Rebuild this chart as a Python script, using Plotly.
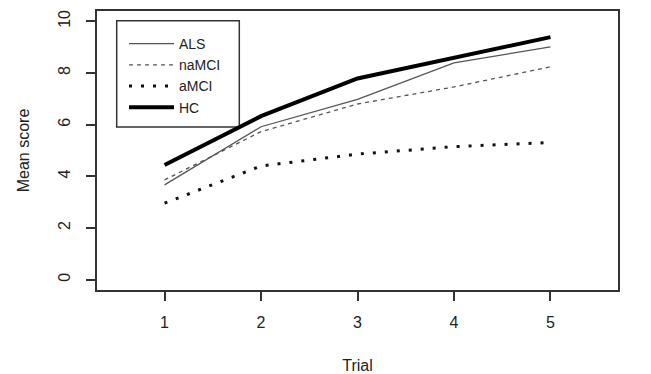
import plotly.graph_objects as go

trials = [1, 2, 3, 4, 5]
als = [3.67, 5.92, 6.98, 8.39, 9.01]
namci = [3.86, 5.73, 6.80, 7.46, 8.24]
amci = [2.96, 4.40, 4.86, 5.15, 5.31]
hc = [4.44, 6.33, 7.79, 8.60, 9.39]

font = "Liberation Sans, Arial, sans-serif"
# page has an 8px body margin; plot area in page coords: x 97..618, y 11..290
OFF = 8
L, R, T, B = 97 - OFF, 651 - 618 + OFF, 11 - OFF, 374 - 290 + OFF
PW, PH = 618 - 97, 290 - 11

fig = go.Figure()
fig.add_trace(go.Scatter(x=trials, y=als, name="ALS", mode="lines",
                         line=dict(color="#555555", width=1.3)))
fig.add_trace(go.Scatter(x=trials, y=namci, name="naMCI", mode="lines",
                         line=dict(color="#555555", width=1.3, dash="4px,4px")))
fig.add_trace(go.Scatter(x=trials, y=amci, name="aMCI", mode="lines",
                         line=dict(color="#111111", width=3, dash="3px,9px")))
fig.add_trace(go.Scatter(x=trials, y=hc, name="HC", mode="lines",
                         line=dict(color="#000000", width=4)))

axis_common = dict(showline=True, linecolor="#333333", linewidth=1.5, mirror=True,
                   ticks="outside", ticklen=9, tickwidth=1.5, tickcolor="#333333",
                   showgrid=False, zeroline=False,
                   tickfont=dict(family=font, size=16, color="#222222"),
                   title_font=dict(family=font, size=16, color="#222222"))

fig.update_xaxes(range=[0.3, 5.7], tickvals=trials, title_text="Trial",
                 title_standoff=30, ticklabelstandoff=8, **axis_common)
fig.update_yaxes(range=[-0.4, 10.4], tickvals=[0, 2, 4, 6, 8, 10], tickangle=-90,
                 title_text="Mean score", title_standoff=22, ticklabelstandoff=10,
                 **axis_common)

fig.add_shape(type="rect", xref="paper", yref="paper",
              x0=(116.7 - 97) / PW, x1=(239.3 - 97) / PW,
              y0=(290 - 127) / PH, y1=(290 - 20.7) / PH,
              line=dict(color="#333333", width=1.5), fillcolor="white", layer="below")

fig.update_layout(
    width=651, height=374,
    margin=dict(l=L, r=R, t=T, b=B, autoexpand=False),
    paper_bgcolor="white", plot_bgcolor="white",
    showlegend=True,
    legend=dict(x=(124 - 97) / PW, y=(290 - 28) / PH, xanchor="left", yanchor="top",
                bgcolor="rgba(0,0,0,0)", borderwidth=0, tracegroupgap=0,
                font=dict(family=font, size=14, color="#222222"), itemwidth=45),
    font=dict(family=font),
)

fig.write_html("out.html")
